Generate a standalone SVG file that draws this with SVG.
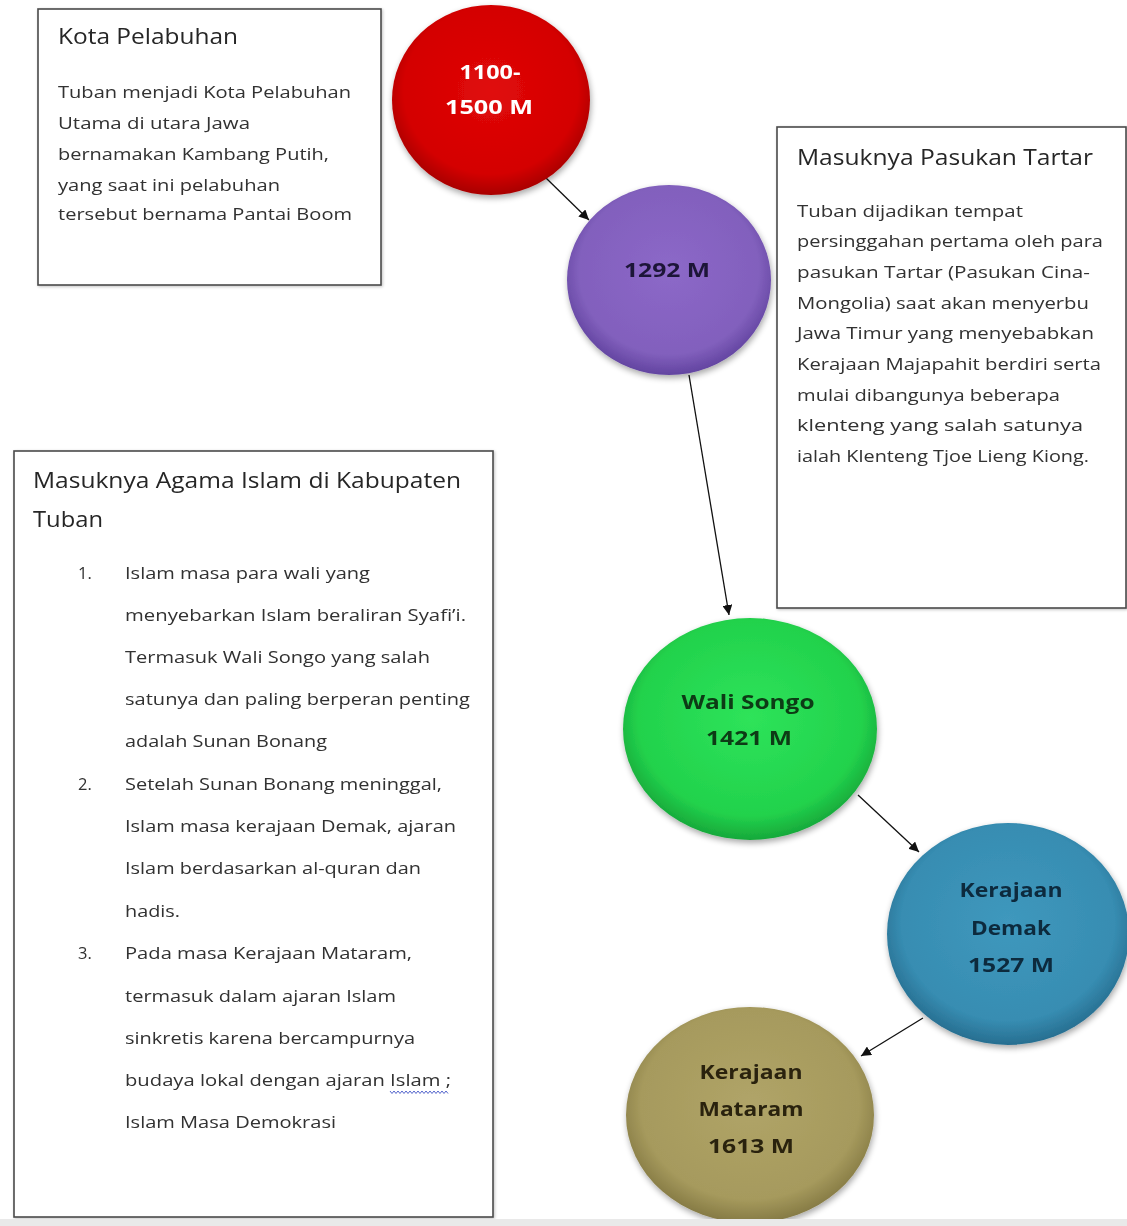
<svg xmlns="http://www.w3.org/2000/svg" width="1127" height="1226" viewBox="0 0 1127 1226">
<style>
.box{fill:#fff;stroke:#4a4a4a;stroke-width:1.6}
.title{font-family:"Open Sans","Liberation Sans",sans-serif;font-size:21px;fill:#262626}
.body{font-family:"Open Sans","Liberation Sans",sans-serif;font-size:16.5px;fill:#303030}
.lbl{font-family:"Open Sans","Liberation Sans",sans-serif;font-size:20px;font-weight:bold;text-anchor:middle}
.conn{stroke:#111;stroke-width:1.3;fill:none;marker-end:url(#arr)}
</style>
<defs>
<marker id="arr" viewBox="0 0 10 10" refX="10" refY="5" markerWidth="10" markerHeight="10" markerUnits="userSpaceOnUse" orient="auto">
<path d="M0,0 L10,5 L0,10 z" fill="#111"/>
</marker>
<filter id="sh" x="-20%" y="-20%" width="140%" height="140%">
<feGaussianBlur in="SourceAlpha" stdDeviation="3"/>
<feOffset dx="1" dy="3" result="o"/>
<feComponentTransfer><feFuncA type="linear" slope="0.35"/></feComponentTransfer>
<feMerge><feMergeNode/><feMergeNode in="SourceGraphic"/></feMerge>
</filter>
<filter id="bsh" x="-5%" y="-5%" width="110%" height="110%">
<feGaussianBlur in="SourceAlpha" stdDeviation="1.5"/>
<feOffset dx="1" dy="1"/>
<feComponentTransfer><feFuncA type="linear" slope="0.25"/></feComponentTransfer>
<feMerge><feMergeNode/><feMergeNode in="SourceGraphic"/></feMerge>
</filter>
<radialGradient id="gRed" cx="50%" cy="45%" r="55%"><stop offset="0" stop-color="#e00a0a"/><stop offset="0.8" stop-color="#d40000"/><stop offset="1" stop-color="#a80000"/></radialGradient>
<radialGradient id="gPur" cx="50%" cy="45%" r="55%"><stop offset="0" stop-color="#8c68c8"/><stop offset="0.8" stop-color="#8260bd"/><stop offset="1" stop-color="#6244a0"/></radialGradient>
<radialGradient id="gGrn" cx="50%" cy="45%" r="55%"><stop offset="0" stop-color="#2ee35a"/><stop offset="0.8" stop-color="#22d24c"/><stop offset="1" stop-color="#17a83a"/></radialGradient>
<radialGradient id="gBlu" cx="50%" cy="45%" r="55%"><stop offset="0" stop-color="#3f98bd"/><stop offset="0.8" stop-color="#378db2"/><stop offset="1" stop-color="#276e90"/></radialGradient>
<radialGradient id="gOli" cx="50%" cy="45%" r="55%"><stop offset="0" stop-color="#b0a468"/><stop offset="0.8" stop-color="#a69a5d"/><stop offset="1" stop-color="#857a44"/></radialGradient>
</defs>
<rect width="1127" height="1226" fill="#fff"/>

<g id="box-kota" filter="url(#bsh)">
<rect class="box" x="38" y="9" width="343" height="276"/>
<text class="title" x="58" y="44" textLength="180" lengthAdjust="spacingAndGlyphs">Kota Pelabuhan</text>
<text class="body" x="58" y="98" textLength="293" lengthAdjust="spacingAndGlyphs">Tuban menjadi Kota Pelabuhan</text>
<text class="body" x="58" y="129" textLength="192" lengthAdjust="spacingAndGlyphs">Utama di utara Jawa</text>
<text class="body" x="58" y="160" textLength="271" lengthAdjust="spacingAndGlyphs">bernamakan Kambang Putih,</text>
<text class="body" x="58" y="191" textLength="222" lengthAdjust="spacingAndGlyphs">yang saat ini pelabuhan</text>
<text class="body" x="58" y="220" textLength="294" lengthAdjust="spacingAndGlyphs">tersebut bernama Pantai Boom</text>
</g>

<g id="box-tartar" filter="url(#bsh)">
<rect class="box" x="777" y="127" width="349" height="481"/>
<text class="title" x="797" y="165" textLength="296" lengthAdjust="spacingAndGlyphs">Masuknya Pasukan Tartar</text>
<text class="body" x="797" y="217" textLength="226" lengthAdjust="spacingAndGlyphs">Tuban dijadikan tempat</text>
<text class="body" x="797" y="247" textLength="306" lengthAdjust="spacingAndGlyphs">persinggahan pertama oleh para</text>
<text class="body" x="797" y="278" textLength="293" lengthAdjust="spacingAndGlyphs">pasukan Tartar (Pasukan Cina-</text>
<text class="body" x="797" y="309" textLength="292" lengthAdjust="spacingAndGlyphs">Mongolia) saat akan menyerbu</text>
<text class="body" x="797" y="339" textLength="297" lengthAdjust="spacingAndGlyphs">Jawa Timur yang menyebabkan</text>
<text class="body" x="797" y="370" textLength="304" lengthAdjust="spacingAndGlyphs">Kerajaan Majapahit berdiri serta</text>
<text class="body" x="797" y="401" textLength="263" lengthAdjust="spacingAndGlyphs">mulai dibangunya beberapa</text>
<text class="body" x="797" y="431" textLength="286" lengthAdjust="spacingAndGlyphs">klenteng yang salah satunya</text>
<text class="body" x="797" y="462" textLength="292" lengthAdjust="spacingAndGlyphs">ialah Klenteng Tjoe Lieng Kiong.</text>
</g>

<g id="box-islam" filter="url(#bsh)">
<rect class="box" x="14" y="451" width="479" height="766"/>
<text class="title" x="33" y="488" textLength="428" lengthAdjust="spacingAndGlyphs">Masuknya Agama Islam di Kabupaten</text>
<text class="title" x="33" y="527" textLength="70" lengthAdjust="spacingAndGlyphs">Tuban</text>
<text class="body" x="78" y="579">1.</text>
<text class="body" x="125" y="579" textLength="245" lengthAdjust="spacingAndGlyphs">Islam masa para wali yang</text>
<text class="body" x="125" y="621" textLength="341" lengthAdjust="spacingAndGlyphs">menyebarkan Islam beraliran Syafi’i.</text>
<text class="body" x="125" y="663" textLength="305" lengthAdjust="spacingAndGlyphs">Termasuk Wali Songo yang salah</text>
<text class="body" x="125" y="705" textLength="345" lengthAdjust="spacingAndGlyphs">satunya dan paling berperan penting</text>
<text class="body" x="125" y="747" textLength="202" lengthAdjust="spacingAndGlyphs">adalah Sunan Bonang</text>
<text class="body" x="78" y="790">2.</text>
<text class="body" x="125" y="790" textLength="317" lengthAdjust="spacingAndGlyphs">Setelah Sunan Bonang meninggal,</text>
<text class="body" x="125" y="832" textLength="331" lengthAdjust="spacingAndGlyphs">Islam masa kerajaan Demak, ajaran</text>
<text class="body" x="125" y="874" textLength="296" lengthAdjust="spacingAndGlyphs">Islam berdasarkan al-quran dan</text>
<text class="body" x="125" y="917" textLength="55" lengthAdjust="spacingAndGlyphs">hadis.</text>
<text class="body" x="78" y="959">3.</text>
<text class="body" x="125" y="959" textLength="287" lengthAdjust="spacingAndGlyphs">Pada masa Kerajaan Mataram,</text>
<text class="body" x="125" y="1002" textLength="271" lengthAdjust="spacingAndGlyphs">termasuk dalam ajaran Islam</text>
<text class="body" x="125" y="1044" textLength="290" lengthAdjust="spacingAndGlyphs">sinkretis karena bercampurnya</text>
<text class="body" x="125" y="1086" textLength="326" lengthAdjust="spacingAndGlyphs">budaya lokal dengan ajaran Islam ;</text>
<path d="M390,1091 l2,2.5 l2,-2.5 l2,2.5 l2,-2.5 l2,2.5 l2,-2.5 l2,2.5 l2,-2.5 l2,2.5 l2,-2.5 l2,2.5 l2,-2.5 l2,2.5 l2,-2.5 l2,2.5 l2,-2.5 l2,2.5 l2,-2.5 l2,2.5 l2,-2.5 l2,2.5 l2,-2.5 l2,2.5 l2,-2.5 l2,2.5 l2,-2.5 l2,2.5 l2,-2.5 l2,2.5" fill="none" stroke="#5566cc" stroke-width="1"/>
<text class="body" x="125" y="1128" textLength="211" lengthAdjust="spacingAndGlyphs">Islam Masa Demokrasi</text>
</g>

<g id="connectors">
<line class="conn" x1="546" y1="178" x2="589" y2="220"/>
<line class="conn" x1="689" y1="375" x2="729" y2="615"/>
<line class="conn" x1="858" y1="795" x2="919" y2="852"/>
<line class="conn" x1="923" y1="1018" x2="861" y2="1056"/>
</g>

<g id="node-1100" filter="url(#sh)">
<ellipse cx="491" cy="100" rx="99" ry="95" fill="url(#gRed)"/>
<text class="lbl" x="490" y="79" fill="#ffffff" textLength="61" lengthAdjust="spacingAndGlyphs">1100-</text>
<text class="lbl" x="489" y="114" fill="#ffffff" textLength="88" lengthAdjust="spacingAndGlyphs">1500 M</text>
</g>

<g id="node-1292" filter="url(#sh)">
<ellipse cx="669" cy="280" rx="102" ry="95" fill="url(#gPur)"/>
<text class="lbl" x="667" y="277" fill="#1e1438" textLength="86" lengthAdjust="spacingAndGlyphs">1292 M</text>
</g>

<g id="node-walisongo" filter="url(#sh)">
<ellipse cx="750" cy="729" rx="127" ry="111" fill="url(#gGrn)"/>
<text class="lbl" x="748" y="709" fill="#0c3a12" textLength="133" lengthAdjust="spacingAndGlyphs">Wali Songo</text>
<text class="lbl" x="749" y="745" fill="#0c3a12" textLength="86" lengthAdjust="spacingAndGlyphs">1421 M</text>
</g>

<g id="node-demak" filter="url(#sh)">
<ellipse cx="1008" cy="934" rx="121" ry="111" fill="url(#gBlu)"/>
<text class="lbl" x="1011" y="897" fill="#0d2a3e" textLength="103" lengthAdjust="spacingAndGlyphs">Kerajaan</text>
<text class="lbl" x="1011" y="935" fill="#0d2a3e" textLength="80" lengthAdjust="spacingAndGlyphs">Demak</text>
<text class="lbl" x="1011" y="972" fill="#0d2a3e" textLength="86" lengthAdjust="spacingAndGlyphs">1527 M</text>
</g>

<g id="node-mataram" filter="url(#sh)">
<ellipse cx="750" cy="1115" rx="124" ry="108" fill="url(#gOli)"/>
<text class="lbl" x="751" y="1079" fill="#2a2410" textLength="103" lengthAdjust="spacingAndGlyphs">Kerajaan</text>
<text class="lbl" x="751" y="1116" fill="#2a2410" textLength="105" lengthAdjust="spacingAndGlyphs">Mataram</text>
<text class="lbl" x="751" y="1153" fill="#2a2410" textLength="86" lengthAdjust="spacingAndGlyphs">1613 M</text>
</g>

<rect x="0" y="1219" width="1127" height="7" fill="#e9e9e9"/>
</svg>
